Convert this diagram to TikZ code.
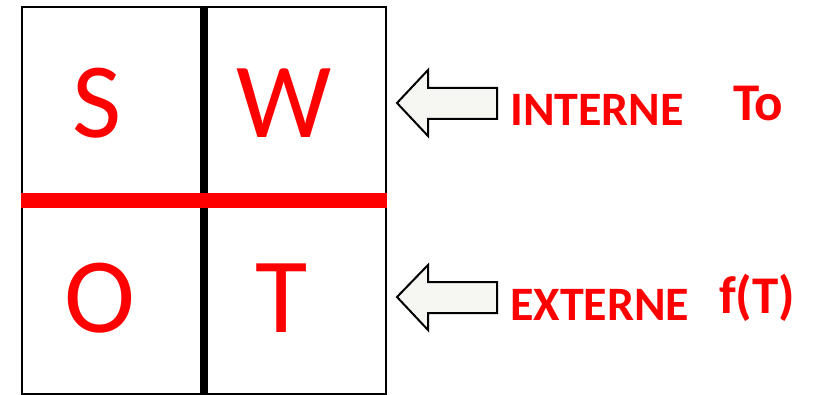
\documentclass[tikz,border=0pt]{standalone}
\usepackage{fontspec}
\setmainfont{Carlito}
\begin{document}
\begin{tikzpicture}[x=1pt,y=-1pt,
  big/.style={text=red,font=\fontsize{107}{107}\selectfont,anchor=base,inner sep=0pt},
  lbl/.style={text=red,font=\bfseries\fontsize{48}{48}\selectfont,anchor=base west,inner sep=0pt},
  lblb/.style={text=red,font=\bfseries\fontsize{53}{53}\selectfont,anchor=base west,inner sep=0pt},
  arr/.style={draw=black,line width=2pt,fill=arrfill,line join=miter}]
\definecolor{arrfill}{HTML}{F6F6F2}
\useasboundingbox (0,0) rectangle (816,395);
% grid
\node[draw=black,line width=2pt,minimum width=364pt,minimum height=387pt,inner sep=0pt,anchor=north west] (box) at (21,6) {};
\draw[line width=8pt,black] ([xshift=-0.5pt]box.north) -- ([xshift=-0.5pt]box.south);
\draw[line width=15pt,red] (box.west) -- (box.east);
% letters
\node[big] (S) at (97,138) {S};
\node[big] (W) at (284,138) {W};
\node[big] (O) at (100,332) {O};
\node[big] (T) at (282,332) {T};
% arrows
\draw[arr] (397,103) -- (428,70) -- (428,88) -- (497,88) -- (497,119) -- (428,119) -- (428,136) -- cycle;
\draw[arr] (397,297) -- (428,265) -- (428,282) -- (497,282) -- (497,313) -- (428,313) -- (428,330) -- cycle;
% labels
\node[lbl] (int) at (510,126) {INTERNE};
\node[lbl] (ext) at (510,320) {EXTERNE};
\node[lblb] (to) at (733,121) {To};
\node[lblb] (ft) at (719,313) {f(T)};
\end{tikzpicture}
\end{document}
